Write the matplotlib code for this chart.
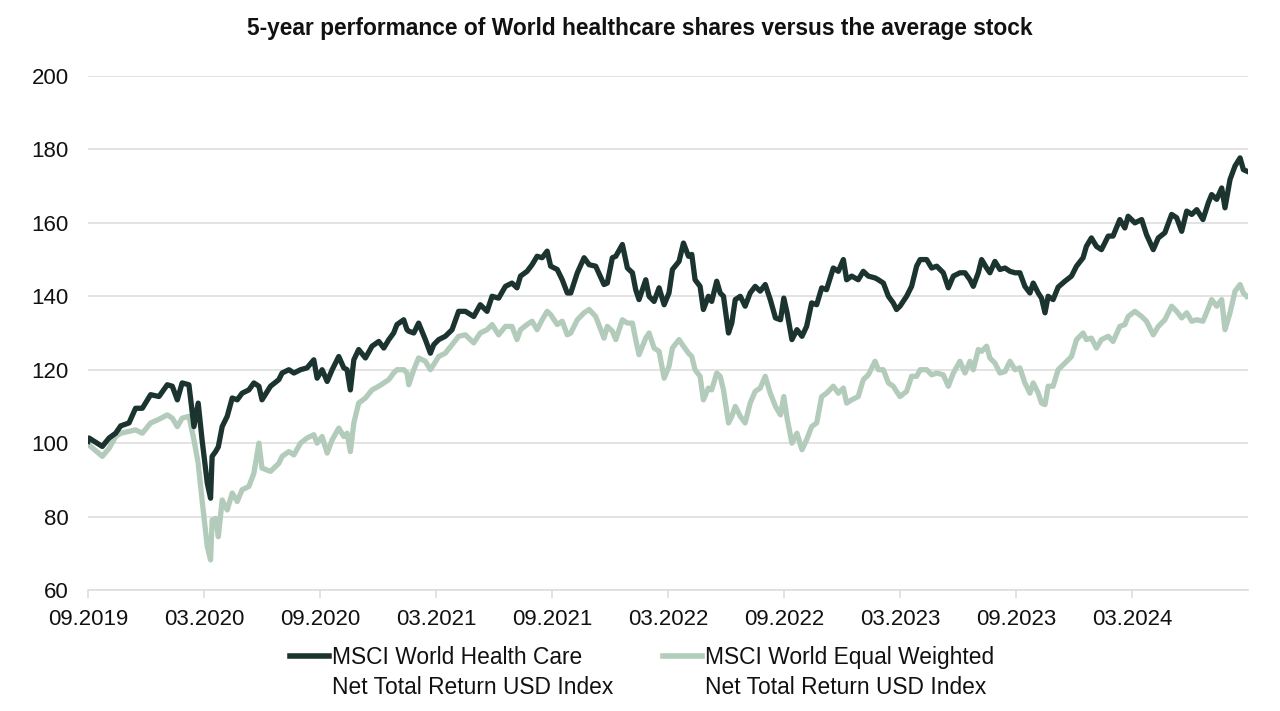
import matplotlib
matplotlib.use("Agg")
import matplotlib.pyplot as plt
from matplotlib.lines import Line2D

plt.rcParams['font.family'] = ['Liberation Sans', 'DejaVu Sans']

# months since 09.2019
months = [0.0, 0.05, 0.74, 1.09, 1.43, 1.69, 2.12, 2.46, 2.81, 3.24, 3.67, 4.10, 4.36, 4.62, 4.87,
          5.22, 5.48, 5.70, 5.90, 6.17, 6.34, 6.42, 6.60, 6.74, 6.94, 7.20, 7.46, 7.72, 7.97, 8.32,
          8.58, 8.84, 9.00, 9.44, 9.87, 10.04, 10.39, 10.65, 10.99, 11.33, 11.68, 11.85, 12.11, 12.37,
          12.63, 12.97, 13.23, 13.40, 13.57, 13.75, 14.00, 14.35, 14.69, 15.04, 15.30, 15.56, 15.81,
          15.98, 16.33, 16.50, 16.59, 16.85, 17.10, 17.45, 17.71, 17.88, 18.14, 18.48, 18.83, 19.17,
          19.52, 19.95, 20.29, 20.64, 20.90, 21.24, 21.59, 21.93, 22.19, 22.37, 22.71, 22.97, 23.23,
          23.49, 23.75, 23.93, 24.27, 24.53, 24.79, 24.97, 25.31, 25.66, 25.92, 26.26, 26.69, 26.86,
          27.12, 27.30, 27.64, 27.90, 28.16, 28.33, 28.50, 28.85, 29.02, 29.28, 29.54, 29.80, 30.05,
          30.23, 30.57, 30.80, 31.06, 31.23, 31.40, 31.66, 31.83, 32.09, 32.26, 32.52, 32.70, 32.87,
          33.13, 33.30, 33.48, 33.74, 33.99, 34.25, 34.51, 34.77, 35.03, 35.29, 35.56, 35.82, 35.99,
          36.16, 36.41, 36.67, 36.93, 37.17, 37.43, 37.69, 37.95, 38.20, 38.55, 38.81, 39.07, 39.24,
          39.50, 39.84, 40.10, 40.36, 40.71, 40.88, 41.14, 41.40, 41.65, 41.82, 42.00, 42.34, 42.60,
          42.86, 43.04, 43.38, 43.64, 43.90, 44.24, 44.50, 44.76, 45.10, 45.36, 45.62, 45.79, 46.05,
          46.22, 46.48, 46.65, 46.91, 47.17, 47.43, 47.69, 47.95, 48.20, 48.46, 48.72, 48.89, 49.15,
          49.32, 49.50, 49.66, 49.92, 50.18, 50.53, 50.87, 51.13, 51.47, 51.64, 51.90, 52.16, 52.42,
          52.77, 53.02, 53.37, 53.63, 53.80, 54.15, 54.50, 54.75, 55.10, 55.36, 55.70, 56.05, 56.31,
          56.57, 56.83, 57.09, 57.35, 57.67, 57.95, 58.12, 58.38, 58.64, 58.81, 59.07, 59.33, 59.59,
          59.76, 59.93]

health_care = [100.5, 101.4, 99.1, 101.4, 102.7, 104.7, 105.5, 109.5, 109.5, 113.2, 112.7, 115.9, 115.5,
               111.8, 116.4, 115.9, 104.5, 110.9, 100.9, 89.1, 85.0, 96.4, 97.7, 99.0, 104.5, 107.3,
               112.3, 111.8, 113.6, 114.5, 116.4, 115.5, 111.8, 115.5, 117.3, 119.1, 120.0, 119.1,
               120.0, 120.5, 122.7, 117.7, 120.0, 116.8, 120.0, 123.6, 120.5, 120.0, 114.5, 122.7,
               125.5, 123.2, 126.4, 127.7, 125.9, 128.2, 130.0, 132.3, 133.6, 130.9, 130.5, 130.0,
               132.7, 128.2, 124.5, 126.8, 128.2, 129.1, 130.9, 135.9, 135.9, 134.5, 137.7, 135.9,
               140.0, 139.5, 142.7, 143.6, 142.3, 145.5, 146.8, 148.6, 150.9, 150.5, 152.3, 148.2,
               147.3, 144.5, 140.9, 140.9, 146.4, 150.5, 148.6, 148.2, 143.2, 143.6, 150.5, 150.9,
               154.1, 147.7, 146.4, 141.8, 139.1, 144.5, 140.0, 138.6, 142.3, 137.7, 140.9, 147.3,
               149.5, 154.5, 150.9, 151.4, 144.5, 142.7, 136.4, 140.0, 138.6, 144.1, 140.9, 140.0,
               130.0, 132.7, 139.1, 140.0, 137.3, 140.9, 142.7, 141.4, 143.2, 139.1, 134.1, 133.6,
               139.5, 135.5, 128.2, 130.9, 129.1, 131.8, 138.2, 137.7, 142.3, 141.8, 147.7, 146.8,
               150.0, 144.5, 145.5, 144.5, 146.8, 145.5, 145.0, 144.5, 143.6, 140.0, 138.2, 136.4,
               137.3, 140.0, 142.7, 148.2, 150.0, 150.0, 147.7, 148.2, 146.4, 142.3, 145.5, 146.4,
               146.4, 144.5, 142.7, 146.4, 150.0, 147.7, 146.4, 149.5, 147.3, 147.7, 146.8, 146.4,
               146.4, 142.7, 140.9, 143.6, 140.9, 139.5, 135.5, 140.0, 139.1, 142.5, 144.1, 145.5,
               148.2, 150.5, 153.6, 155.9, 153.6, 152.7, 156.4, 156.4, 160.9, 158.6, 161.8, 160.0,
               160.9, 156.8, 152.7, 155.9, 157.3, 162.3, 161.4, 157.7, 163.2, 162.3, 163.6, 160.9,
               165.5, 167.7, 166.4, 169.5, 164.1, 171.8, 175.5, 177.7, 174.5, 174.1]

equal_weighted = [100.0, 99.5, 96.4, 98.6, 101.8, 102.7, 103.2, 103.6, 102.7, 105.5, 106.5, 107.7, 106.8,
                  104.5, 106.8, 107.3, 100.9, 94.5, 84.5, 71.8, 68.2, 79.0, 79.5, 74.5, 84.5, 81.8,
                  86.4, 84.1, 87.3, 88.2, 91.8, 100.0, 93.2, 92.3, 94.5, 96.4, 97.7, 96.8, 100.0,
                  101.4, 102.3, 100.0, 101.8, 97.3, 100.9, 104.1, 101.8, 102.7, 97.7, 105.5, 110.9,
                  112.3, 114.5, 115.5, 116.4, 117.3, 119.1, 120.0, 120.0, 119.1, 115.9, 120.0, 123.2,
                  122.3, 120.0, 121.4, 123.6, 124.5, 126.8, 129.1, 129.5, 127.3, 130.0, 130.9, 132.3,
                  129.5, 131.8, 131.8, 128.2, 130.9, 132.3, 133.2, 130.9, 133.6, 135.9, 135.0, 132.3,
                  133.2, 129.5, 130.0, 133.6, 135.5, 136.4, 134.5, 128.6, 131.8, 130.5, 128.2, 133.6,
                  132.7, 132.7, 128.2, 124.1, 128.6, 130.0, 125.9, 125.0, 117.7, 120.9, 125.9, 128.2,
                  126.4, 124.5, 123.6, 120.0, 118.2, 111.8, 115.0, 114.5, 119.1, 118.2, 114.5, 105.5,
                  107.3, 110.0, 107.3, 105.5, 110.9, 114.1, 115.0, 118.2, 113.6, 110.0, 107.7, 112.7,
                  106.8, 100.0, 102.7, 98.2, 100.9, 104.5, 105.5, 112.7, 113.6, 115.5, 113.6, 115.0,
                  110.9, 111.8, 112.7, 117.3, 118.6, 122.3, 120.0, 120.0, 116.4, 115.5, 114.1, 112.7,
                  114.1, 118.2, 118.2, 120.0, 120.0, 118.6, 119.1, 118.6, 115.5, 119.1, 122.3, 119.1,
                  122.3, 120.0, 125.5, 125.0, 126.4, 123.2, 121.8, 119.1, 119.5, 122.3, 120.0, 120.5,
                  116.4, 113.6, 116.4, 113.6, 110.9, 110.5, 115.5, 115.5, 120.0, 121.8, 123.6, 128.2,
                  130.0, 128.2, 128.6, 125.9, 128.2, 129.1, 127.7, 131.8, 132.3, 134.5, 135.9, 134.5,
                  133.2, 129.5, 131.8, 133.6, 137.3, 135.9, 134.1, 135.5, 133.2, 133.6, 133.2, 136.8,
                  139.1, 137.3, 139.1, 130.9, 135.5, 141.4, 143.2, 140.9, 140.0]

tick_months = [0, 6, 12, 18, 24, 30, 36, 42, 48, 54]
tick_labels = ['09.2019', '03.2020', '09.2020', '03.2021', '09.2021',
               '03.2022', '09.2022', '03.2023', '09.2023', '03.2024']

dark = '#1b342f'
light = '#b3cbbb'
grid = '#dedede'

fig = plt.figure(figsize=(12.8, 7.11), dpi=100)
ax = fig.add_axes([88/1280, 1-590/711, 1160/1280, 514/711])

ax.plot(months, equal_weighted, color=light, lw=3.8, solid_joinstyle='round', zorder=3)
ax.plot(months, health_care, color=dark, lw=3.8, solid_joinstyle='round', zorder=4)

ax.set_xlim(0, 60)
ax.set_ylim(60, 200)
ax.set_yticks(range(60, 201, 20))
ax.set_xticks(tick_months)
ax.set_xticklabels(tick_labels)
ax.grid(axis='y', color=grid, lw=1.2, zorder=0)
for s in ['top', 'right', 'left']:
    ax.spines[s].set_visible(False)
ax.spines['bottom'].set_color(grid)
ax.spines['bottom'].set_linewidth(1.2)
ax.tick_params(axis='y', length=0, pad=14, labelsize=16, labelcolor='#111111')
ax.tick_params(axis='x', length=6, width=1.2, color=grid, pad=8, labelsize=16, labelcolor='#111111')

fig.text(0.5, 1-29/711, '5-year performance of World healthcare shares versus the average stock',
         ha='center', va='center', fontsize=16.4, fontweight='bold', color='#111111')

# legend drawn by hand so the line sits beside the first text line
for x0, col, label in [(290, dark, 'MSCI World Health Care\nNet Total Return USD Index'),
                       (663, light, 'MSCI World Equal Weighted\nNet Total Return USD Index')]:
    fig.add_artist(Line2D([x0/1280, (x0+39)/1280], [1-656/711, 1-656/711],
                          transform=fig.transFigure, color=col, lw=4))
    fig.text((x0+42)/1280, 1-646/711, label, ha='left', va='top', fontsize=16.4,
             color='#111111', linespacing=1.4)

fig.savefig('out.png', dpi=100)
